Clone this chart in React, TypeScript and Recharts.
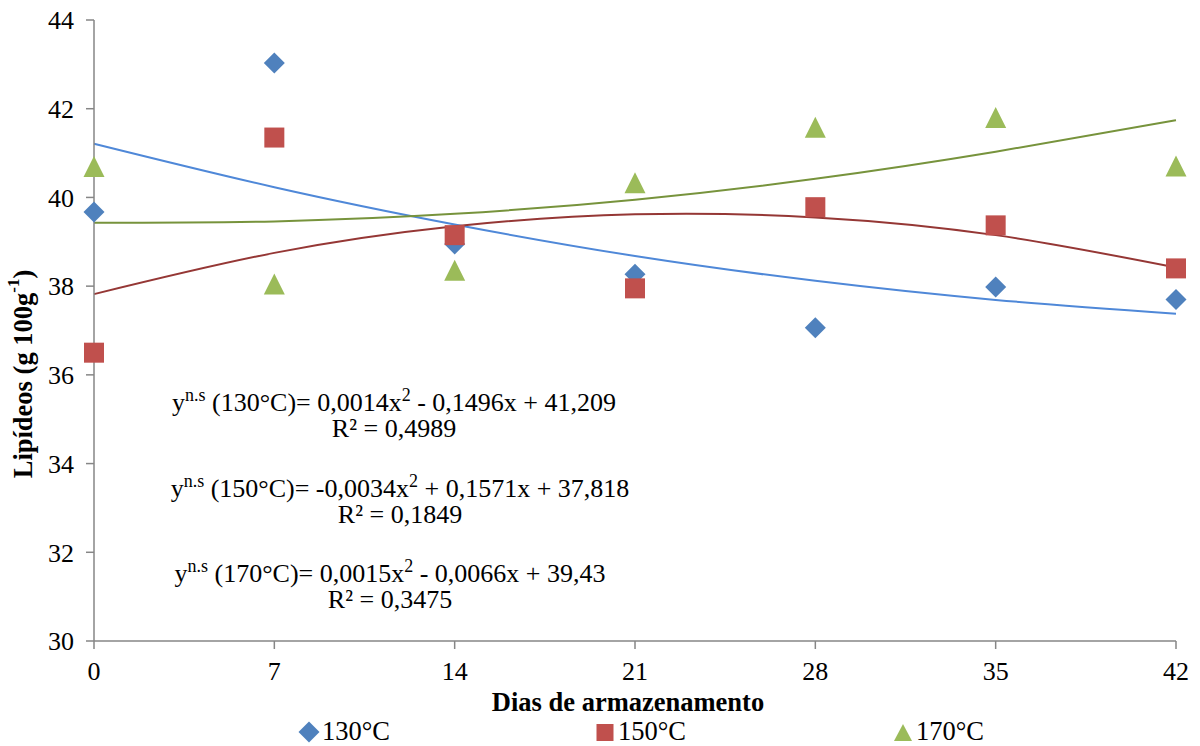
import {
  ComposedChart,
  Line,
  Scatter,
  XAxis,
  YAxis,
} from "recharts";

// Lipídeos x dias de armazenamento, three roasting temperatures + quadratic trendlines

const FONT = "Liberation Serif, Tinos, Times New Roman, DejaVu Serif, serif";
const BLUE = "#4f81bd";
const RED = "#c0504d";
const GREEN = "#9bbb59";
const BLUE_LINE = "#4f88d8";
const RED_LINE = "#953735";
const GREEN_LINE = "#77933c";
const AXIS = "#868686";

const days = [0, 7, 14, 21, 28, 35, 42];
const lip130 = [39.67, 43.03, 38.95, 38.27, 37.06, 37.98, 37.7];
const lip150 = [36.5, 41.35, 39.15, 37.95, 39.78, 39.37, 38.4];
const lip170 = [40.7, 38.05, 38.36, 40.33, 41.58, 41.8, 40.71];
// trendline values at each day
const trend130 = [41.21, 40.23, 39.39, 38.68, 38.12, 37.69, 37.38];
const trend150 = [37.82, 38.75, 39.35, 39.62, 39.55, 39.15, 38.42];
const trend170 = [39.43, 39.46, 39.63, 39.95, 40.42, 41.03, 41.74];

const xTicks = [0, 7, 14, 21, 28, 35, 42];
const yTicks = [30, 32, 34, 36, 38, 40, 42, 44];

const data = days.map((d, i) => ({
  day: d,
  p130: lip130[i],
  p150: lip150[i],
  p170: lip170[i],
  f130: trend130[i],
  f150: trend150[i],
  f170: trend170[i],
}));

const S = 10.5;

function Diamond(props: any) {
  const { cx, cy } = props;
  return (
    <polygon
      points={`${cx},${cy - S} ${cx + S},${cy} ${cx},${cy + S} ${cx - S},${cy}`}
      fill={BLUE}
    />
  );
}

function Square(props: any) {
  const { cx, cy } = props;
  return <rect x={cx - 10} y={cy - 10} width={20} height={20} fill={RED} />;
}

function Triangle(props: any) {
  const { cx, cy } = props;
  return (
    <polygon
      points={`${cx},${cy - S} ${cx + S},${cy + S} ${cx - S},${cy + S}`}
      fill={GREEN}
    />
  );
}

function Equation({
  x,
  y,
  temp,
  rest,
  r2,
}: {
  x: number;
  y: number;
  temp: string;
  rest: [string, string];
  r2: string;
}) {
  return (
    <g style={{ fontFamily: FONT }} fontSize={26} fill="#000">
      <text x={x} y={y} textAnchor="middle">
        y
        <tspan dy={-10} fontSize={18}>
          n.s
        </tspan>
        <tspan dy={10}>{` (${temp})= ${rest[0]}`}</tspan>
        <tspan dy={-10} fontSize={18}>
          2
        </tspan>
        <tspan dy={10}>{rest[1]}</tspan>
      </text>
      <text x={x} y={y + 26} textAnchor="middle">
        {`R² = ${r2}`}
      </text>
    </g>
  );
}

function YLabel() {
  return (
    <text
      x={23}
      y={374}
      transform="rotate(-90, 23, 374)"
      textAnchor="middle"
      dominantBaseline="central"
      style={{ fontFamily: FONT }}
      fontSize={26.5}
      fontWeight="bold"
      fill="#000"
    >
      Lipídeos (g 100g
      <tspan dy={-10} fontSize={17}>
        -1
      </tspan>
      <tspan dy={10}>)</tspan>
    </text>
  );
}

function LegendItem({ x, label, icon }: { x: number; label: string; icon: "d" | "s" | "t" }) {
  return (
    <g>
      {icon === "d" && <Diamond cx={x} cy={732} />}
      {icon === "s" && <rect x={x - 8.5} y={724} width={17} height={17} fill={RED} />}
      {icon === "t" && (
        <polygon points={`${x},${724} ${x + 9},${741} ${x - 9},${741}`} fill={GREEN} />
      )}
      <text x={x + 13} y={740} style={{ fontFamily: FONT }} fontSize={26.5} fill="#000">
        {label}
      </text>
    </g>
  );
}

const tickStyle = { fill: "#000", fontSize: 26, fontFamily: FONT };

export default function App() {
  return (
    <div
      style={{
        position: "absolute",
        left: 0,
        top: 0,
        width: 1200,
        height: 746,
        background: "#fff",
        fontFamily: FONT,
      }}
    >
      <ComposedChart
        width={1200}
        height={746}
        data={data}
        margin={{ top: 20, right: 24, bottom: 65, left: 34 }}
      >
        <XAxis
          dataKey="day"
          type="number"
          domain={[0, 42]}
          ticks={xTicks}
          interval={0}
          height={40}
          tickSize={8}
          tickMargin={13}
          axisLine={{ stroke: AXIS, strokeWidth: 1.5 }}
          tickLine={{ stroke: AXIS, strokeWidth: 1.5 }}
          tick={tickStyle}
        />
        <YAxis
          type="number"
          domain={[30, 44]}
          ticks={yTicks}
          interval={0}
          width={60}
          tickSize={8}
          tickMargin={12}
          axisLine={{ stroke: AXIS, strokeWidth: 1.5 }}
          tickLine={{ stroke: AXIS, strokeWidth: 1.5 }}
          tick={tickStyle}
        />
        <Scatter dataKey="p130" shape={<Diamond />} isAnimationActive={false} />
        <Scatter dataKey="p150" shape={<Square />} isAnimationActive={false} />
        <Scatter dataKey="p170" shape={<Triangle />} isAnimationActive={false} />
        <Line
          dataKey="f130"
          type="natural"
          stroke={BLUE_LINE}
          strokeWidth={2}
          dot={false}
          activeDot={false}
          isAnimationActive={false}
        />
        <Line
          dataKey="f150"
          type="natural"
          stroke={RED_LINE}
          strokeWidth={2}
          dot={false}
          activeDot={false}
          isAnimationActive={false}
        />
        <Line
          dataKey="f170"
          type="natural"
          stroke={GREEN_LINE}
          strokeWidth={2}
          dot={false}
          activeDot={false}
          isAnimationActive={false}
        />
      </ComposedChart>
      <svg
        width={1200}
        height={746}
        style={{ position: "absolute", left: 0, top: 0, pointerEvents: "none" }}
      >
        <YLabel />
        <text
          x={628}
          y={711}
          textAnchor="middle"
          style={{ fontFamily: FONT }}
          fontSize={26.5}
          fontWeight="bold"
          fill="#000"
        >
          Dias de armazenamento
        </text>
        <Equation x={394} y={411} temp="130°C" rest={["0,0014x", " - 0,1496x + 41,209"]} r2="0,4989" />
        <Equation x={400} y={497} temp="150°C" rest={["-0,0034x", " + 0,1571x + 37,818"]} r2="0,1849" />
        <Equation x={390} y={582} temp="170°C" rest={["0,0015x", " - 0,0066x + 39,43"]} r2="0,3475" />
        <LegendItem x={309} label="130°C" icon="d" />
        <LegendItem x={605} label="150°C" icon="s" />
        <LegendItem x={903} label="170°C" icon="t" />
      </svg>
    </div>
  );
}
